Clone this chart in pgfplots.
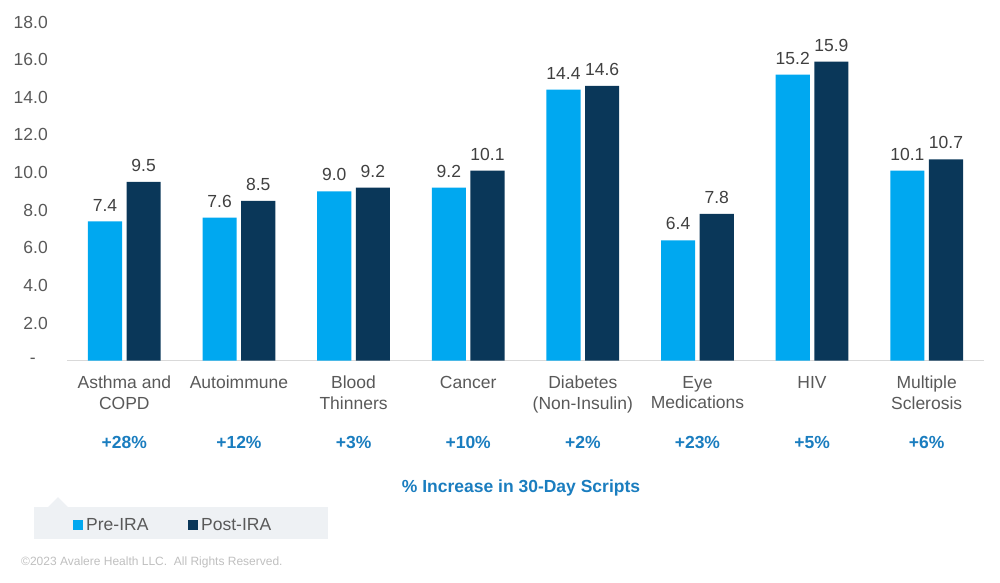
\documentclass[border=0pt]{standalone}
\usepackage{fontspec}
\setmainfont{Liberation Sans}
\usepackage{pgfplots}
\pgfplotsset{compat=1.18}

\definecolor{preblue}{HTML}{00A8F0}
\definecolor{postnavy}{HTML}{0A3759}
\definecolor{pctblue}{HTML}{1A7DBF}
\definecolor{txtgray}{HTML}{595959}
\definecolor{lblgray}{HTML}{404040}
\definecolor{boxgray}{HTML}{EEF1F4}
\definecolor{axgray}{HTML}{D9D9D9}

\newcommand{\bigfont}{\fontsize{17.5}{20.5}\selectfont}

\begin{document}
\begin{tikzpicture}[x=1pt,y=1pt]
\path[use as bounding box] (0,0) rectangle (1000,582);

\begin{axis}[
  at={(67pt,221.3pt)}, anchor=south west,
  scale only axis,
  width=917pt, height=338.7pt,
  xmin=-0.5, xmax=7.5,
  ymin=0, ymax=18,
  axis lines*=left,
  x axis line style={axgray, line width=1.2pt, -},
  y axis line style={draw=none},
  xtick={0,...,7},
  xtick style={draw=none},
  xticklabels={Asthma and\\COPD, Autoimmune, Blood\\Thinners, Cancer,
    Diabetes\\(Non-Insulin), Eye\\Medications, HIV, Multiple\\Sclerosis},
  xticklabel style={align=center, font=\bigfont, text=txtgray,
    anchor=north, inner sep=0pt, yshift=-11pt},
  ytick={0,2,...,18},
  yticklabels={-\kern12pt, 2.0, 4.0, 6.0, 8.0, 10.0, 12.0, 14.0, 16.0, 18.0},
  yticklabel style={anchor=east, inner sep=0pt, xshift=-19pt,
    font=\bigfont, text=txtgray},
  ytick style={draw=none},
  clip=false,
  ybar,
  bar width=0.297,
  nodes near coords,
  nodes near coords style={font=\bigfont, text=lblgray, anchor=south,
    inner sep=0pt, yshift=10pt,
    /pgf/number format/.cd, fixed, fixed zerofill, precision=1,
    assume math mode=true},
]
\addplot[fill=preblue, draw=none, bar shift=-19.3pt] coordinates {
  (0,7.4) (1,7.6) (2,9.0) (3,9.2) (4,14.4) (5,6.4) (6,15.2) (7,10.1)
};
\addplot[fill=postnavy, draw=none, bar shift=19.3pt] coordinates {
  (0,9.5) (1,8.5) (2,9.2) (3,10.1) (4,14.6) (5,7.8) (6,15.9) (7,10.7)
};

\node[anchor=base, font=\bigfont\bfseries, text=pctblue] at (axis cs:0,-4.64) {+28\%};
\node[anchor=base, font=\bigfont\bfseries, text=pctblue] at (axis cs:1,-4.64) {+12\%};
\node[anchor=base, font=\bigfont\bfseries, text=pctblue] at (axis cs:2,-4.64) {+3\%};
\node[anchor=base, font=\bigfont\bfseries, text=pctblue] at (axis cs:3,-4.64) {+10\%};
\node[anchor=base, font=\bigfont\bfseries, text=pctblue] at (axis cs:4,-4.64) {+2\%};
\node[anchor=base, font=\bigfont\bfseries, text=pctblue] at (axis cs:5,-4.64) {+23\%};
\node[anchor=base, font=\bigfont\bfseries, text=pctblue] at (axis cs:6,-4.64) {+5\%};
\node[anchor=base, font=\bigfont\bfseries, text=pctblue] at (axis cs:7,-4.64) {+6\%};
\end{axis}

\node[anchor=base, inner sep=0pt, font=\bigfont\bfseries, text=pctblue]
  at (521,90) {\% Increase in 30-Day Scripts};

% legend panel
\fill[boxgray] (34,43) rectangle (328,75);
\fill[boxgray] (48,75) -- (58,85) -- (68,75) -- cycle;
\fill[preblue] (73,52) rectangle (83,62);
\node[anchor=base west, inner sep=0pt, font=\bigfont, text=txtgray] at (86,52) {Pre-IRA};
\fill[postnavy] (188,52) rectangle (198,62);
\node[anchor=base west, inner sep=0pt, font=\bigfont, text=txtgray] at (201,52) {Post-IRA};

\node[anchor=base west, inner sep=0pt, font=\fontsize{12}{14}\selectfont, text=black!25]
  at (21,17) {©2023 Avalere Health LLC.\ \ All Rights Reserved.};
\end{tikzpicture}
\end{document}
